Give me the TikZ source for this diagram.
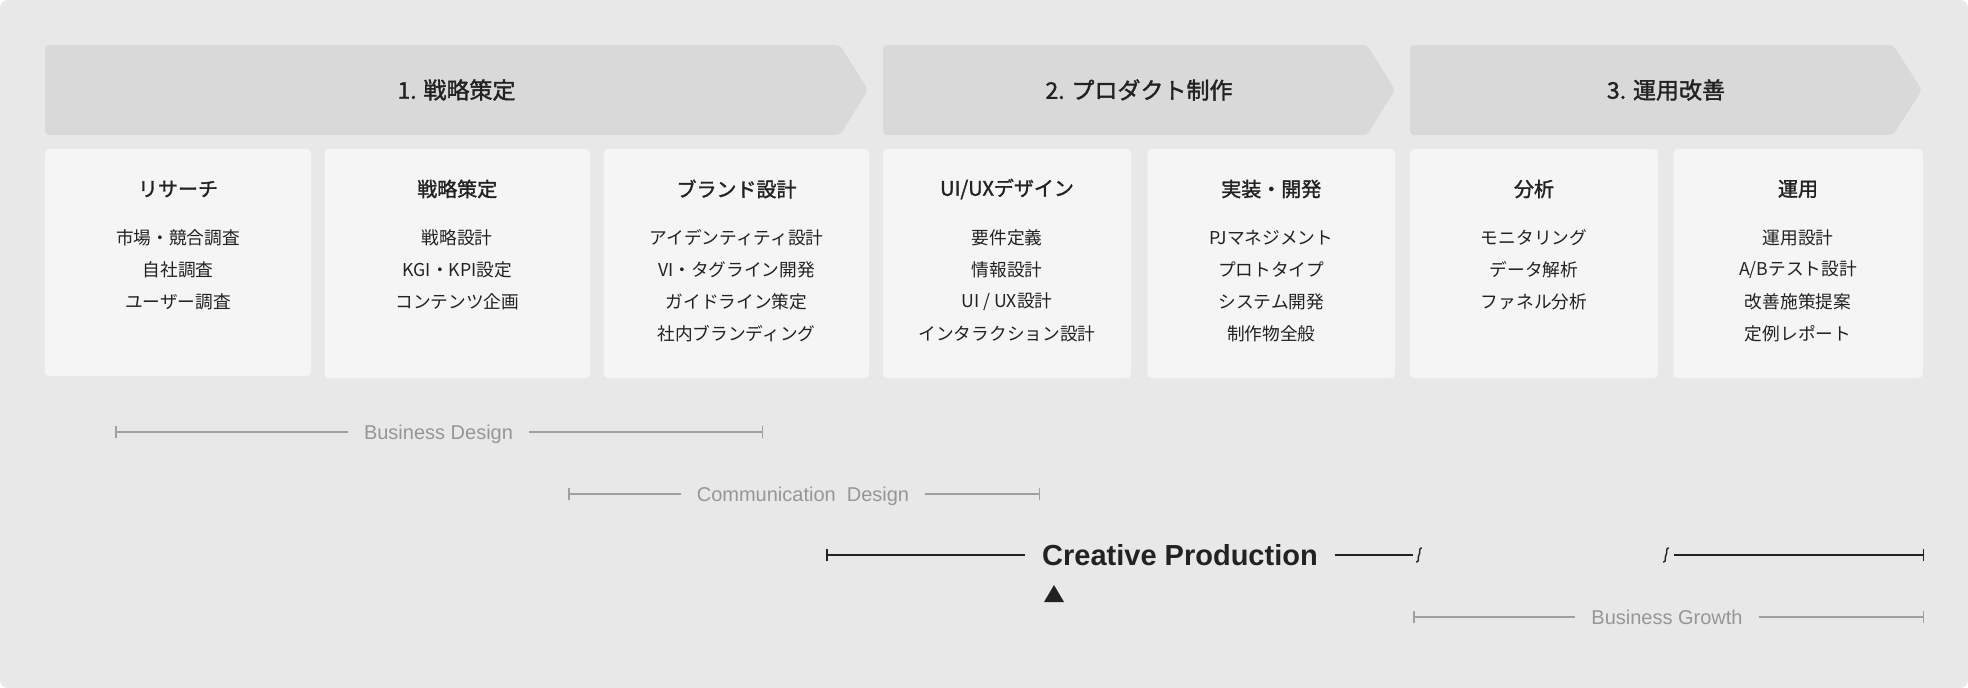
\documentclass[tikz,border=0pt]{standalone}
\usepackage{fontspec}
\newfontfamily\jp{Noto Sans CJK JP}
\newfontfamily\jpm[FakeBold=1.5]{Noto Sans CJK JP}
\newfontfamily\hv{Liberation Sans}
\usetikzlibrary{arrows.meta}
\definecolor{bgc}{HTML}{E8E8E8}
\definecolor{chevc}{HTML}{D9D9D9}
\definecolor{cardc}{HTML}{F5F5F5}
\definecolor{ink}{HTML}{222222}
\definecolor{gtxt}{HTML}{969696}
\definecolor{gline}{HTML}{A0A0A0}
\tikzset{
  chev/.style={fill=chevc, rounded corners=4pt},
  chevtxt/.style={inner sep=0pt, text=ink, font=\jpm\fontsize{23}{23}\selectfont},
  card/.style={fill=cardc, rounded corners=4pt, inner sep=0pt, draw=none},
  ctitle/.style={inner sep=0pt, text=ink, font=\jpm\fontsize{20}{20}\selectfont},
  citem/.style={inner sep=0pt, text=ink, font=\jp\fontsize{17.7}{17.7}\selectfont},
  glabel/.style={inner ysep=0pt, inner xsep=16pt, text=gtxt, text height=14.3pt, text depth=0pt, font=\hv\fontsize{20}{20}\selectfont},
  blabel/.style={inner ysep=0pt, inner xsep=17pt, text=ink, text height=20.8pt, text depth=0pt, font=\hv\bfseries\fontsize{29}{29}\selectfont},
  gbar/.style={draw=gline, line width=1.5pt},
  bbar/.style={draw=ink, line width=1.5pt},
  squig/.pic={\draw[ink, line width=1.4pt, line cap=round] (-2.5,7) .. controls (0.5,7.5) and (-1.5,1) .. (0,0) .. controls (1.5,-1) and (-0.5,-7.5) .. (2.5,-7);}
}
\begin{document}
\begin{tikzpicture}[x=1pt,y=-1pt]
\useasboundingbox (0,0) rectangle (1968,688);
\fill[white] (0,0) rectangle (1968,688);
\fill[bgc, rounded corners=8pt] (0,0) rectangle (1968,688);

% chevrons
\fill[chev] (440,45) -- (840,45) -- (868,90) -- (840,135) -- (45,135) -- (45,45) -- cycle;
\fill[chev] (1100,45) -- (1367,45) -- (1395,90) -- (1367,135) -- (883,135) -- (883,45) -- cycle;
\fill[chev] (1600,45) -- (1893,45) -- (1922,90) -- (1893,135) -- (1410,135) -- (1410,45) -- cycle;
\node[chevtxt] (p1) at (456.5,90) {1. 戦略策定};
\node[chevtxt] (p2) at (1139,90) {2. プロダクト制作};
\node[chevtxt] (p3) at (1666,90) {3. 運用改善};

% cards
\node[card, minimum width=266pt, minimum height=227pt] (c1) at (178,262.5) {};
\node[card, minimum width=265.5pt, minimum height=229pt] (c2) at (457.25,263.5) {};
\node[card, minimum width=265pt, minimum height=229pt] (c3) at (736.5,263.5) {};
\node[card, minimum width=248pt, minimum height=229pt] (c4) at (1007,263.5) {};
\node[card, minimum width=247.5pt, minimum height=229pt] (c5) at (1271.25,263.5) {};
\node[card, minimum width=248pt, minimum height=229pt] (c6) at (1534,263.5) {};
\node[card, minimum width=249.5pt, minimum height=229pt] (c7) at (1798,263.5) {};

\node[ctitle] (t1) at (178,189) {リサーチ};
\node[ctitle] (t2) at (457.25,189) {戦略策定};
\node[ctitle] (t3) at (736.5,189) {ブランド設計};
\node[ctitle] (t4) at (1007,189) {UI/UXデザイン};
\node[ctitle] (t5) at (1271.25,189) {実装・開発};
\node[ctitle] (t6) at (1534,189) {分析};
\node[ctitle] (t7) at (1798,189) {運用};

\foreach \t [count=\i] in {市場・競合調査,自社調査,ユーザー調査}
  \node[citem] (a\i) at (178,{237.5+32*(\i-1)}) {\t};
\foreach \t [count=\i] in {戦略設計,KGI・KPI設定,コンテンツ企画}
  \node[citem] (b\i) at (457.25,{237.5+32*(\i-1)}) {\t};
\foreach \t [count=\i] in {アイデンティティ設計,VI・タグライン開発,ガイドライン策定,社内ブランディング}
  \node[citem] (d\i) at (736.5,{237.5+32*(\i-1)}) {\t};
\foreach \t [count=\i] in {要件定義,情報設計,UI / UX設計,インタラクション設計}
  \node[citem] (e\i) at (1007,{237.5+32*(\i-1)}) {\t};
\foreach \t [count=\i] in {PJマネジメント,プロトタイプ,システム開発,制作物全般}
  \node[citem] (f\i) at (1271.25,{237.5+32*(\i-1)}) {\t};
\foreach \t [count=\i] in {モニタリング,データ解析,ファネル分析}
  \node[citem] (g\i) at (1534,{237.5+32*(\i-1)}) {\t};
\foreach \t [count=\i] in {運用設計,A/Bテスト設計,改善施策提案,定例レポート}
  \node[citem] (h\i) at (1798,{237.5+32*(\i-1)}) {\t};

% Business Design
\coordinate (bdL) at (115,432);
\coordinate (bdR) at (763,432);
\node[glabel] (bd) at (438.5,432) {Business Design};
\draw[gbar, {Bar[width=12pt]}-] (bdL) -- (bd.west);
\draw[gbar, -{Bar[width=12pt]}] (bd.east) -- (bdR);

% Communication Design
\coordinate (cdL) at (568,494);
\coordinate (cdR) at (1040,494);
\node[glabel] (cd) at (803,494) {Communication\ \ Design};
\draw[gbar, {Bar[width=12pt]}-] (cdL) -- (cd.west);
\draw[gbar, -{Bar[width=12pt]}] (cd.east) -- (cdR);

% Creative Production
\coordinate (cpL) at (826,555);
\coordinate (sq1) at (1419,555);
\coordinate (sq2) at (1666,555);
\coordinate (cpR) at (1924,555);
\node[blabel] (cp) at (1180,555) {Creative Production};
\draw[bbar, {Bar[width=12pt]}-] (cpL) -- (cp.west);
\draw[bbar] (cp.east) -- ([xshift=-6pt]sq1);
\pic at (sq1) {squig};
\pic at (sq2) {squig};
\draw[bbar, -{Bar[width=12pt]}] ([xshift=8pt]sq2) -- (cpR);
\fill[ink] (1044,602) -- (1064,602) -- (1054,585) -- cycle;

% Business Growth
\coordinate (bgL) at (1413,617);
\coordinate (bgR) at (1924,617);
\node[glabel] (bg) at (1667,617) {Business Growth};
\draw[gbar, {Bar[width=12pt]}-] (bgL) -- (bg.west);
\draw[gbar, -{Bar[width=12pt]}] (bg.east) -- (bgR);
\end{tikzpicture}
\end{document}
